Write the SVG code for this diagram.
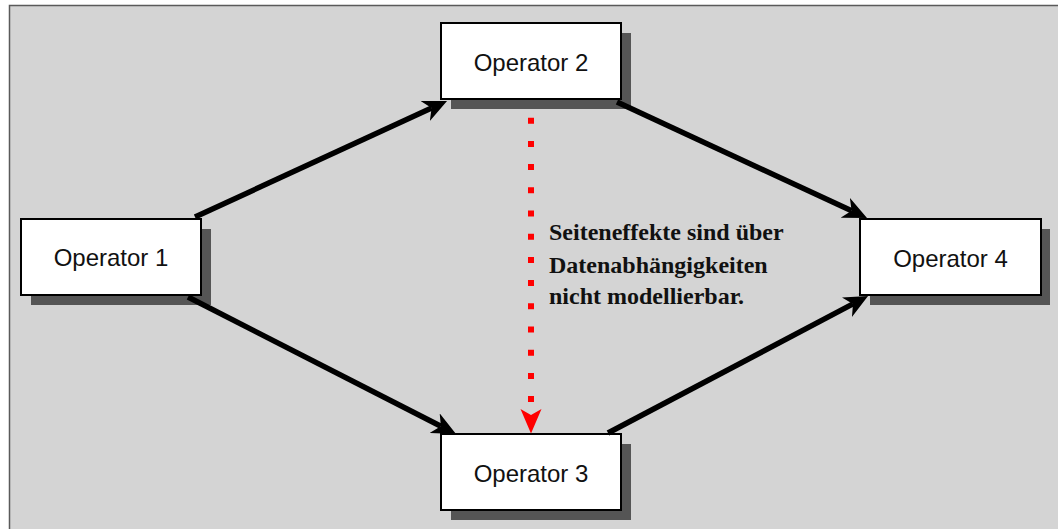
<svg xmlns="http://www.w3.org/2000/svg" width="1058" height="529" viewBox="0 0 1058 529">
  <style>
    .shadow { fill: #555555; }
    .box { fill: #ffffff; stroke: #000000; stroke-width: 2; }
    .label { font-family: "Liberation Sans", Arial, sans-serif; font-size: 24px; fill: #111111; text-anchor: middle; }
    .conn { stroke: #000000; stroke-width: 5.5; fill: none; marker-end: url(#ah); }
    .note { font-family: "Liberation Serif", "Times New Roman", serif; font-size: 24px; font-weight: bold; fill: #111111; }
  </style>
  <defs>
    <marker id="ah" markerUnits="userSpaceOnUse" markerWidth="24" markerHeight="22" refX="7" refY="11" orient="auto" viewBox="0 0 24 22">
      <path d="M0,0 L24,11 L0,22 L7,11 z" fill="#000000"/>
    </marker>
  </defs>
  <rect x="0" y="0" width="1058" height="529" fill="#ffffff"/>
  <rect x="9.5" y="5.5" width="1060" height="540" fill="#d4d4d4" stroke="#5a5a5a" stroke-width="1.5"/>

  <g id="op1">
    <rect class="shadow" x="31" y="229" width="180" height="76"/>
    <rect class="box" x="21" y="219" width="180" height="76"/>
    <text class="label" x="111" y="266">Operator 1</text>
  </g>
  <g id="op2">
    <rect class="shadow" x="451" y="33" width="180" height="76"/>
    <rect class="box" x="441" y="23" width="180" height="76"/>
    <text class="label" x="531" y="71">Operator 2</text>
  </g>
  <g id="op3">
    <rect class="shadow" x="451" y="444" width="180" height="76"/>
    <rect class="box" x="441" y="434" width="180" height="76"/>
    <text class="label" x="531" y="482">Operator 3</text>
  </g>
  <g id="op4">
    <rect class="shadow" x="870" y="229" width="180" height="76"/>
    <rect class="box" x="860" y="219" width="181" height="76"/>
    <text class="label" x="950.5" y="267">Operator 4</text>
  </g>

  <g id="connectors">
    <line class="conn" x1="195" y1="217" x2="431.6" y2="108.1"/>
    <line class="conn" x1="188" y1="297" x2="440.9" y2="426.3"/>
    <line class="conn" x1="617" y1="102" x2="851.6" y2="210.8"/>
    <line class="conn" x1="608" y1="433" x2="853" y2="303.9"/>
    <line x1="531" y1="117.7" x2="531" y2="402" stroke="#ff0000" stroke-width="6" stroke-dasharray="6 17.2"/>
    <polygon points="520.5,409 531,415 541.5,409 531,433.5" fill="#ff0000"/>
  </g>

  <g id="note">
    <text class="note" x="549" y="240">Seiteneffekte sind über</text>
    <text class="note" x="549" y="273">Datenabhängigkeiten</text>
    <text class="note" x="549" y="304">nicht modellierbar.</text>
  </g>
</svg>
